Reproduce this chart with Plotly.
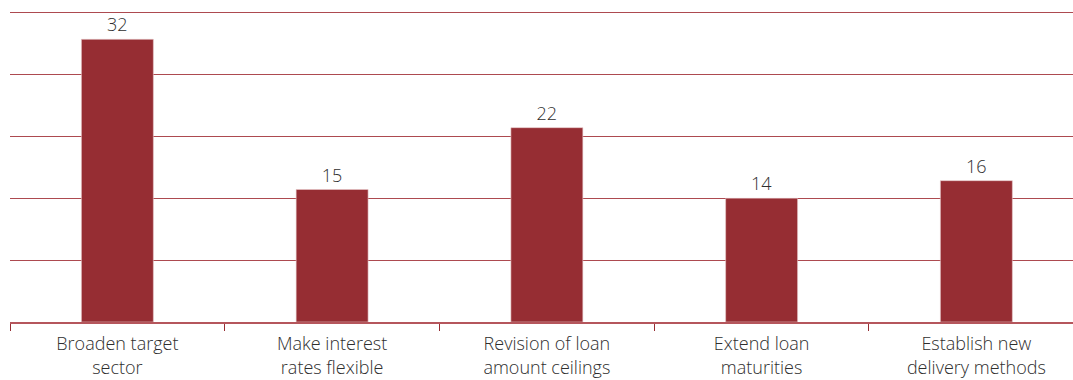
import plotly.graph_objects as go

categories = [
    "Broaden target<br>sector",
    "Make interest<br>rates flexible",
    "Revision of loan<br>amount ceilings",
    "Extend loan<br>maturities",
    "Establish new<br>delivery methods",
]
values = [32, 15, 22, 14, 16]

bar_color = "#962d33"
line_color = "#b5565c"
text_font = dict(family="Open Sans", size=18, color="#2e2e2e", weight=300)

fig = go.Figure(
    go.Bar(
        x=categories,
        y=values,
        width=0.335,
        marker=dict(color=bar_color, line=dict(color="#e8c9cb", width=0.6)),
        text=[str(v) for v in values],
        textposition="outside",
        textfont=text_font,
        cliponaxis=False,
    )
)

fig.update_layout(
    width=1073,
    height=380,
    margin=dict(l=10, r=0, t=4, b=58),
    paper_bgcolor="white",
    plot_bgcolor="white",
    showlegend=False,
    bargap=0.665,
    font=text_font,
)

fig.update_xaxes(
    type="category",
    range=[-0.5, 4.45],
    tickson="boundaries",
    ticks="outside",
    ticklen=7,
    tickcolor=bar_color,
    tickwidth=1,
    showline=True,
    linecolor=line_color,
    linewidth=1.5,
    showgrid=False,
    tickfont=text_font,
    ticklabelstandoff=5,
)

fig.update_yaxes(
    range=[0, 36],
    tickvals=[7, 14, 21, 28, 35],
    showgrid=True,
    gridcolor="#ad4a50",
    gridwidth=1,
    showticklabels=False,
    zeroline=False,
    ticks="",
)

fig.write_html("out.html")
